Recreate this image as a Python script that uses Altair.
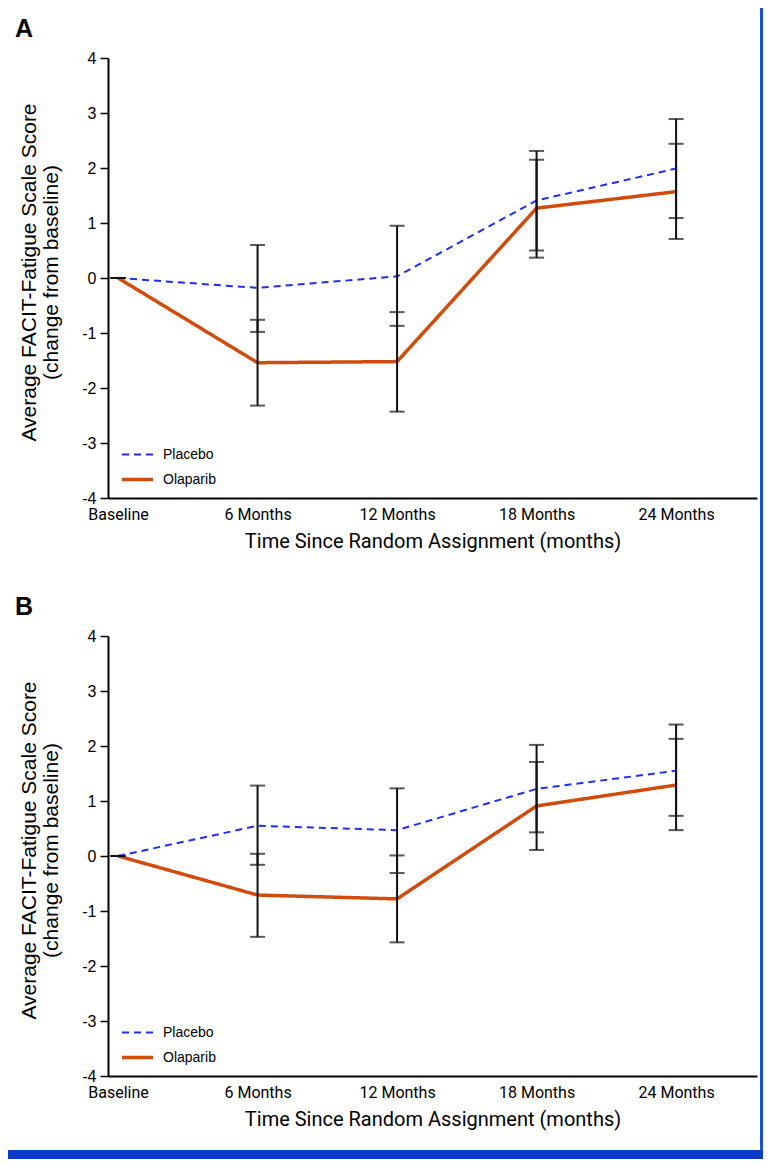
import json
import altair as alt
import pandas as pd

# ---------------- data ----------------
timepoints = ["Baseline", "6 Months", "12 Months", "18 Months", "24 Months"]
time_index = [0, 1, 2, 3, 4]
series_names = ["Placebo", "Olaparib"]
y_ticks = [-4, -3, -2, -1, 0, 1, 2, 3, 4]

# Panel A
a_placebo = [0.0, -0.18, 0.03, 1.41, 1.99]
a_placebo_lo = [0.0, -0.98, -0.87, 0.50, 1.09]
a_placebo_hi = [0.0, 0.60, 0.95, 2.31, 2.89]
a_olaparib = [0.0, -1.54, -1.52, 1.27, 1.57]
a_olaparib_lo = [0.0, -2.32, -2.43, 0.37, 0.71]
a_olaparib_hi = [0.0, -0.76, -0.62, 2.15, 2.44]

# Panel B
b_placebo = [0.0, 0.55, 0.47, 1.22, 1.55]
b_placebo_lo = [0.0, -0.16, -0.31, 0.43, 0.73]
b_placebo_hi = [0.0, 1.28, 1.23, 2.02, 2.39]
b_olaparib = [0.0, -0.71, -0.78, 0.91, 1.29]
b_olaparib_lo = [0.0, -1.47, -1.57, 0.11, 0.47]
b_olaparib_hi = [0.0, 0.04, 0.01, 1.71, 2.13]

# ---------------- style ----------------
BLUE = "#1f2ff0"
ORANGE = "#cf4c0c"
FRAME = "#1e4fdc"
BAND = "#0a3cc8"
FONT = "Liberation Sans"
NARROW = "Liberation Sans Narrow, Roboto, Liberation Sans, sans-serif"
W, H = 649, 440


def build_df(pl, pl_lo, pl_hi, ol, ol_lo, ol_hi):
    rows = []
    for name, m, lo, hi in (("Placebo", pl, pl_lo, pl_hi), ("Olaparib", ol, ol_lo, ol_hi)):
        for t, lab, mv, l, h in zip(time_index, timepoints, m, lo, hi):
            rows.append({"t": t, "label": lab, "series": name, "mean": mv, "lo": l, "hi": h})
    return pd.DataFrame(rows)


label_expr = json.dumps(timepoints) + "[datum.value]"

x_enc = alt.X(
    "t:Q",
    scale=alt.Scale(domain=[-0.072, 4.58], nice=False, zero=False),
    axis=alt.Axis(
        values=time_index,
        labelExpr=label_expr,
        title="Time Since Random Assignment (months)",
        ticks=False,
        tickSize=0,
        labelPadding=8,
        labelFont=NARROW,
        labelFontSize=16,
        labelColor="black",
        titleFont=NARROW,
        titleFontSize=20,
        titleFontWeight="normal",
        titleColor="black",
        titleBaseline="top",
        titleY=33,
        domainColor="black",
        domainWidth=2,
        grid=False,
    ),
)


def y_enc(field):
    return alt.Y(
        field,
        scale=alt.Scale(domain=[-4, 4], nice=False),
        axis=alt.Axis(
            values=y_ticks,
            labelExpr="'' + datum.value",
            title=["Average FACIT-Fatigue Scale Score", "(change from baseline)"],
            titleFont=FONT,
            titleFontSize=21,
            titleFontWeight="normal",
            titleColor="black",
            titleAngle=-90,
            titleAlign="center",
            titleBaseline="bottom",
            titleLineHeight=22,
            titleX=-69,
            titleY=214,
            labelFont=FONT,
            labelFontSize=16,
            labelColor="black",
            labelPadding=4,
            tickSize=8,
            tickWidth=1.5,
            tickColor="black",
            domainColor="black",
            domainWidth=2,
            grid=False,
        ),
    )


legend = alt.Legend(
    title=None,
    orient="none",
    legendX=12,
    legendY=380,
    symbolType="stroke",
    symbolSize=961,
    labelFont=FONT,
    labelFontSize=14,
    labelColor="black",
    labelOffset=8,
    rowPadding=0,
)


def panel(df, letter, border_y0, border_y1, band=False):
    base = alt.Chart(df)
    lines = base.mark_line().encode(
        x=x_enc,
        y=y_enc("mean:Q"),
        color=alt.Color("series:N", scale=alt.Scale(domain=series_names, range=[BLUE, ORANGE]), legend=legend),
        strokeDash=alt.StrokeDash("series:N", scale=alt.Scale(domain=series_names, range=[[7, 5], [1, 0]]), legend=legend),
        strokeWidth=alt.StrokeWidth("series:N", scale=alt.Scale(domain=series_names, range=[2, 3.5]), legend=legend),
        detail="series:N",
    )
    bars = base.mark_rule(color="#111111", strokeWidth=2).encode(
        x="t:Q", y="lo:Q", y2="hi:Q"
    )
    caps = base.transform_fold(["lo", "hi"], as_=["bound", "val"]).mark_tick(
        orient="horizontal", size=15, thickness=2, color="#111111"
    ).encode(x="t:Q", y="val:Q")
    letter_txt = alt.Chart(pd.DataFrame({"letter": [letter]})).mark_text(
        font=FONT, fontSize=25, fontWeight="bold", align="left", baseline="alphabetic", color="black"
    ).encode(text="letter:N", x=alt.value(-93), y=alt.value(-21))
    border = alt.Chart(pd.DataFrame({"k": [0]})).mark_rect(color=FRAME).encode(
        x=alt.value(652), x2=alt.value(655), y=alt.value(border_y0), y2=alt.value(border_y1)
    )
    layers = [lines, bars, caps, letter_txt, border]
    if band:
        band_mark = alt.Chart(pd.DataFrame({"k": [0]})).mark_rect(color=BAND).encode(
            x=alt.value(-100), x2=alt.value(655), y=alt.value(514), y2=alt.value(523)
        )
        layers.append(band_mark)
    return alt.layer(*layers).properties(width=W, height=H)


df_a = build_df(a_placebo, a_placebo_lo, a_placebo_hi, a_olaparib, a_olaparib_lo, a_olaparib_hi)
df_b = build_df(b_placebo, b_placebo_lo, b_placebo_hi, b_olaparib, b_olaparib_lo, b_olaparib_hi)

panel_a = panel(df_a, "A", -50, 578)
panel_b = panel(df_b, "B", 0, 514, band=True)

chart = (
    alt.vconcat(panel_a, panel_b, spacing=138, bounds="flush")
    .resolve_scale(color="independent", strokeDash="independent", strokeWidth="independent")
    .resolve_legend(color="independent", strokeDash="independent", strokeWidth="independent")
    .properties(padding={"left": 0, "top": 0, "right": 0, "bottom": 0}, background="white")
    .configure_view(stroke=None)
)

chart.save("out.html", embed_options={"renderer": "svg", "actions": False})
